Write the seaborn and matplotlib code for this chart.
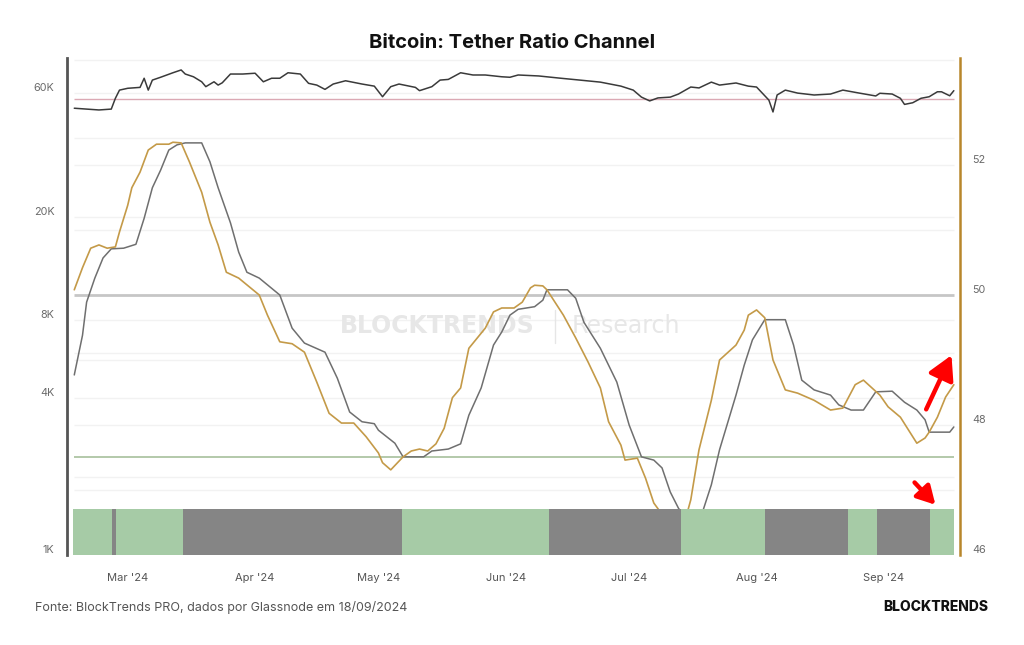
import pandas as pd
import numpy as np
import matplotlib
matplotlib.use("Agg")
import matplotlib.pyplot as plt
import matplotlib.dates as mdates
from matplotlib.ticker import FixedLocator, NullLocator
from matplotlib.lines import Line2D
import seaborn as sns

# --- data ---
price_dates = ["2024-02-17", "2024-02-20", "2024-02-23", "2024-02-26", "2024-02-27", "2024-02-28",
               "2024-03-01", "2024-03-04", "2024-03-05", "2024-03-06", "2024-03-07", "2024-03-09",
               "2024-03-12", "2024-03-14", "2024-03-15", "2024-03-17", "2024-03-19", "2024-03-20",
               "2024-03-22", "2024-03-23", "2024-03-24", "2024-03-26", "2024-03-29", "2024-04-01",
               "2024-04-03", "2024-04-05", "2024-04-07", "2024-04-09", "2024-04-12", "2024-04-14",
               "2024-04-16", "2024-04-18", "2024-04-20", "2024-04-23", "2024-04-27", "2024-04-30",
               "2024-05-02", "2024-05-04", "2024-05-06", "2024-05-10", "2024-05-11", "2024-05-14",
               "2024-05-16", "2024-05-18", "2024-05-21", "2024-05-24", "2024-05-27", "2024-05-31",
               "2024-06-02", "2024-06-04", "2024-06-09", "2024-06-14", "2024-06-19", "2024-06-24",
               "2024-06-29", "2024-07-02", "2024-07-04", "2024-07-06", "2024-07-08", "2024-07-11",
               "2024-07-13", "2024-07-16", "2024-07-18", "2024-07-21", "2024-07-23", "2024-07-27",
               "2024-07-30", "2024-08-01", "2024-08-04", "2024-08-05", "2024-08-06", "2024-08-08",
               "2024-08-11", "2024-08-15", "2024-08-19", "2024-08-22", "2024-08-26", "2024-08-30",
               "2024-08-31", "2024-09-03", "2024-09-05", "2024-09-06", "2024-09-08", "2024-09-10",
               "2024-09-12", "2024-09-14", "2024-09-15", "2024-09-17", "2024-09-18"]
price_k = [52.3, 51.9, 51.5, 51.9, 57.1, 61.4,
           62.4, 62.9, 68.2, 61.4, 67.1, 68.8,
           71.6, 73.4, 70.8, 69.1, 66.1, 63.3,
           66.1, 64.2, 65.5, 70.8, 70.8, 71.3,
           66.1, 68.2, 68.2, 71.6, 70.8, 65.2,
           64.2, 61.8, 64.8, 66.7, 64.8, 63.6,
           57.9, 63.3, 64.8, 62.9, 61.1, 63.3,
           67.1, 67.5, 71.6, 70.2, 70.2, 69.1,
           68.8, 70.2, 69.6, 68.3, 67.1, 65.9,
           63.6, 61.4, 57.7, 55.8, 57.3, 57.7,
           59.3, 63.1, 62.6, 65.9, 64.2, 65.4,
           63.6, 63.1, 56.2, 50.6, 58.8, 61.4,
           59.8, 58.8, 59.3, 61.4, 59.8, 58.3,
           59.7, 59.3, 57.1, 54.1, 54.9, 57.1,
           57.9, 60.5, 60.5, 58.4, 61.1]

gold_dates = ["2024-02-17", "2024-02-19", "2024-02-21", "2024-02-23", "2024-02-25", "2024-02-27",
              "2024-02-28", "2024-03-01", "2024-03-02", "2024-03-04", "2024-03-06", "2024-03-08",
              "2024-03-11", "2024-03-12", "2024-03-14", "2024-03-16", "2024-03-19", "2024-03-21",
              "2024-03-23", "2024-03-25", "2024-03-28", "2024-04-02", "2024-04-04", "2024-04-07",
              "2024-04-10", "2024-04-13", "2024-04-16", "2024-04-19", "2024-04-22", "2024-04-25",
              "2024-04-28", "2024-05-01", "2024-05-02", "2024-05-04", "2024-05-07", "2024-05-09",
              "2024-05-11", "2024-05-13", "2024-05-15", "2024-05-17", "2024-05-19", "2024-05-21",
              "2024-05-23", "2024-05-27", "2024-05-29", "2024-05-31", "2024-06-03", "2024-06-05",
              "2024-06-07", "2024-06-08", "2024-06-10", "2024-06-11", "2024-06-15", "2024-06-18",
              "2024-06-21", "2024-06-24", "2024-06-26", "2024-06-29", "2024-06-30", "2024-07-03",
              "2024-07-05", "2024-07-07", "2024-07-10", "2024-07-12", "2024-07-15", "2024-07-16",
              "2024-07-18", "2024-07-21", "2024-07-23", "2024-07-27", "2024-07-29", "2024-07-30",
              "2024-08-01", "2024-08-03", "2024-08-05", "2024-08-08", "2024-08-11", "2024-08-15",
              "2024-08-19", "2024-08-22", "2024-08-25", "2024-08-27", "2024-08-31", "2024-09-02",
              "2024-09-05", "2024-09-07", "2024-09-09", "2024-09-11", "2024-09-12", "2024-09-14",
              "2024-09-16", "2024-09-18"]
gold_vals = [50.08, 50.42, 50.72, 50.77, 50.72, 50.74,
             50.97, 51.38, 51.65, 51.89, 52.23, 52.32,
             52.32, 52.35, 52.34, 52.05, 51.58, 51.12,
             50.77, 50.35, 50.26, 50.00, 49.69, 49.28,
             49.25, 49.12, 48.66, 48.18, 48.03, 48.03,
             47.82, 47.57, 47.42, 47.31, 47.51, 47.60,
             47.63, 47.60, 47.71, 47.95, 48.42, 48.57,
             49.18, 49.49, 49.74, 49.80, 49.80, 49.89,
             50.11, 50.15, 50.14, 50.08, 49.69, 49.34,
             48.97, 48.57, 48.05, 47.69, 47.46, 47.49,
             47.18, 46.80, 46.54, 46.46, 46.62, 46.85,
             47.62, 48.38, 49.00, 49.23, 49.46, 49.69,
             49.77, 49.65, 49.00, 48.54, 48.49, 48.38,
             48.23, 48.26, 48.62, 48.69, 48.46, 48.28,
             48.12, 47.92, 47.72, 47.80, 47.89, 48.12,
             48.43, 48.62]

gray_dates = ["2024-02-17", "2024-02-19", "2024-02-20", "2024-02-22", "2024-02-24", "2024-02-26",
              "2024-02-29", "2024-03-03", "2024-03-05", "2024-03-07", "2024-03-09", "2024-03-11",
              "2024-03-13", "2024-03-15", "2024-03-19", "2024-03-21", "2024-03-23", "2024-03-26",
              "2024-03-28", "2024-03-30", "2024-04-02", "2024-04-07", "2024-04-10", "2024-04-13",
              "2024-04-18", "2024-04-21", "2024-04-24", "2024-04-27", "2024-04-30", "2024-05-01",
              "2024-05-05", "2024-05-07", "2024-05-12", "2024-05-14", "2024-05-18", "2024-05-21",
              "2024-05-23", "2024-05-26", "2024-05-29", "2024-05-31", "2024-06-02", "2024-06-04",
              "2024-06-08", "2024-06-10", "2024-06-11", "2024-06-16", "2024-06-18", "2024-06-20",
              "2024-06-24", "2024-06-28", "2024-07-01", "2024-07-04", "2024-07-07", "2024-07-09",
              "2024-07-11", "2024-07-13", "2024-07-15", "2024-07-17", "2024-07-19", "2024-07-21",
              "2024-07-23", "2024-07-27", "2024-07-29", "2024-07-31", "2024-08-03", "2024-08-08",
              "2024-08-10", "2024-08-12", "2024-08-15", "2024-08-19", "2024-08-21", "2024-08-24",
              "2024-08-27", "2024-08-30", "2024-09-03", "2024-09-06", "2024-09-09", "2024-09-11",
              "2024-09-12", "2024-09-17", "2024-09-18"]
gray_vals = [48.77, 49.38, 49.89, 50.26, 50.57, 50.71,
             50.72, 50.78, 51.18, 51.65, 51.92, 52.23,
             52.31, 52.34, 52.34, 52.05, 51.65, 51.11,
             50.66, 50.35, 50.26, 50.00, 49.49, 49.26,
             49.12, 48.72, 48.20, 48.05, 48.02, 47.92,
             47.72, 47.51, 47.51, 47.60, 47.63, 47.71,
             48.15, 48.57, 49.23, 49.43, 49.69, 49.78,
             49.82, 49.92, 50.08, 50.08, 49.95, 49.58,
             49.18, 48.66, 48.00, 47.51, 47.46, 47.34,
             46.97, 46.72, 46.54, 46.46, 46.69, 47.08,
             47.62, 48.46, 48.92, 49.31, 49.62, 49.62,
             49.23, 48.69, 48.54, 48.46, 48.31, 48.23,
             48.23, 48.51, 48.52, 48.35, 48.23, 48.08,
             47.89, 47.89, 47.97]

# regime band (bottom strip)
regime_bounds = ["2024-02-16 15:00", "2024-02-26 06:00", "2024-02-27 02:00", "2024-03-14 11:00",
                 "2024-05-06 19:00", "2024-06-11 12:00", "2024-07-13 17:00", "2024-08-03 01:00",
                 "2024-08-23 05:00", "2024-08-30 05:00", "2024-09-12 05:00", "2024-09-18 03:00"]
regime_state = ["bull", "bear", "bull", "bear", "bull", "bear", "bull", "bear", "bull", "bear", "bull"]

upper_level = 50.0
lower_level = 47.5
price_ref = 56800

left_ticks = [1000, 4000, 8000, 20000, 60000]
left_labels = ["1K", "4K", "8K", "20K", "60K"]
right_ticks = [46, 48, 50, 52]
left_grid = [2000, 4000, 6000, 8000, 20000, 40000, 60000, 80000]
right_grid = [47, 48, 49, 51, 52]

price_df = pd.DataFrame({"date": pd.to_datetime(price_dates), "price": np.array(price_k) * 1000})
gold_df = pd.DataFrame({"date": pd.to_datetime(gold_dates), "ratio": gold_vals})
gray_df = pd.DataFrame({"date": pd.to_datetime(gray_dates), "ratio": gray_vals})
start, end = gold_df["date"].min(), gold_df["date"].max()

sns.set_theme(style="white")
plt.rcParams["font.family"] = ["Inter", "DejaVu Sans"]

fig = plt.figure(figsize=(10.24, 6.45), dpi=100)
ax = fig.add_axes([67 / 1024, 1 - 555 / 645, (960 - 67) / 1024, (555 - 58) / 645])
ax2 = ax.twinx()

ax.set_yscale("log")
ax.hlines(left_grid, start, end, color="#f2f2f2", lw=1, zorder=0)
ax.hlines(price_ref, start, end, color="#dba9b4", lw=1, zorder=1)
sns.lineplot(data=price_df, x="date", y="price", ax=ax, color="#3a3a3a", lw=1.1, zorder=2,
             solid_joinstyle="round")

ax2.hlines(right_grid, start, end, color="#f2f2f2", lw=1, zorder=0)
ax2.hlines(upper_level, start, end, color="#c6c6c6", lw=2, zorder=1)
ax2.hlines(lower_level, start, end, color="#a7c09c", lw=1.2, zorder=1)
sns.lineplot(data=gray_df, x="date", y="ratio", ax=ax2, color="#6f6f6f", lw=1.1, zorder=3,
             solid_joinstyle="round")
sns.lineplot(data=gold_df, x="date", y="ratio", ax=ax2, color="#c49a48", lw=1.2, zorder=3,
             solid_joinstyle="round")

band_colors = {"bull": "#a6cba6", "bear": "#858585"}
bounds = pd.to_datetime(regime_bounds)
for a, b, st in zip(bounds[:-1], bounds[1:], regime_state):
    ax2.axvspan(a, b, ymin=0, ymax=46 / 497, color=band_colors[st], lw=0, zorder=5)

ax.set_xlim(pd.Timestamp("2024-02-15 05:30"), pd.Timestamp("2024-09-19 12:00"))
ax.set_ylim(1000, 81600)
ax2.set_ylim(46, 53.646)

ax.yaxis.set_major_locator(FixedLocator(left_ticks))
ax.yaxis.set_minor_locator(NullLocator())
ax.set_yticklabels(left_labels)
ax2.set_yticks(right_ticks)
ax2.set_yticklabels([str(t) for t in right_ticks])
for a_ in (ax, ax2):
    a_.tick_params(axis="y", length=0, pad=9, labelsize=7.8, labelcolor="#6b6b6b")
    a_.set_xlabel("")
    a_.set_ylabel("")
plt.setp(ax.get_yticklabels(), va="bottom")
plt.setp(ax2.get_yticklabels(), va="bottom")

ax.xaxis.set_major_locator(mdates.MonthLocator(bymonth=range(3, 10)))
ax.xaxis.set_major_formatter(mdates.DateFormatter("%b '%y"))
ax.tick_params(axis="x", length=8, width=1, color="#e2e2e2", labelsize=8, labelcolor="#555555", pad=5)

for s in ("top", "bottom", "right"):
    ax.spines[s].set_visible(False)
for s in ("top", "bottom", "left"):
    ax2.spines[s].set_visible(False)
ax.spines["left"].set_color("#555555")
ax.spines["left"].set_linewidth(2)
ax2.spines["right"].set_color("#b8862b")
ax2.spines["right"].set_linewidth(1.8)

# watermark
ax.text(437 / 1024, 1 - 326 / 645, "BLOCKTRENDS", transform=fig.transFigure, ha="center", va="center",
        fontsize=17, fontweight="bold", color="#e7e7e7", family=["DejaVu Sans"], zorder=0)
ax.text(572 / 1024, 1 - 326 / 645, "Research", transform=fig.transFigure, ha="left", va="center",
        fontsize=17, color="#e7e7e7", family=["DejaVu Sans"], zorder=0)
fig.add_artist(Line2D([555 / 1024] * 2, [1 - 310 / 645, 1 - 343 / 645], color="#e6e6e6", lw=1))

# red arrows
ax2.annotate("", xy=(0.9918, 0.407), xytext=(0.9608, 0.288), xycoords="axes fraction",
             arrowprops=dict(arrowstyle="-|>,head_length=0.9,head_width=0.5", color="#ff0000",
                             lw=3.2, mutation_scale=16),
             annotation_clip=False, zorder=10)
ax2.annotate("", xy=(0.9746, 0.097), xytext=(0.9470, 0.150), xycoords="axes fraction",
             arrowprops=dict(arrowstyle="-|>,head_length=0.9,head_width=0.5", color="#ff0000",
                             lw=3.2, mutation_scale=12),
             annotation_clip=False, zorder=10)

fig.text(512 / 1024, 1 - 43 / 645, "Bitcoin: Tether Ratio Channel", ha="center", va="center",
         fontsize=14.5, fontweight="bold", color="#111111")
fig.text(35 / 1024, 1 - 607 / 645, "Fonte: BlockTrends PRO, dados por Glassnode em 18/09/2024",
         ha="left", va="center", fontsize=9, color="#555555")
fig.text(988 / 1024, 1 - 607 / 645, "BLOCKTRENDS", ha="right", va="center",
         fontsize=10, fontweight="heavy", color="#111111")

plt.savefig("out.png", dpi=100)
